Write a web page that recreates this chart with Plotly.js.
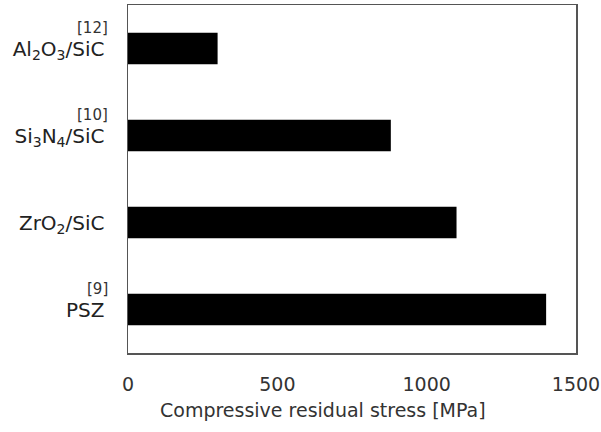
<!DOCTYPE html>
<html><head><meta charset="utf-8">
<script src="https://cdn.plot.ly/plotly-3.0.1.min.js"></script>
<style>html,body{margin:0;padding:0;background:#fff}</style>
</head><body>
<div id="chart" style="width:601px;height:432px"></div>
<script>
const categories = ["Al<sub>2</sub>O<sub>3</sub>/SiC", "Si<sub>3</sub>N<sub>4</sub>/SiC", "ZrO<sub>2</sub>/SiC", "PSZ"];
const catKeys = ["Al2O3/SiC", "Si3N4/SiC", "ZrO2/SiC", "PSZ"];
const values = [300, 880, 1100, 1400];
const refs = ["[12]", "[10]", "", "[9]"];
const xTicks = [0, 500, 1000, 1500];
const xTitle = "Compressive residual stress [MPa]";

const font = "DejaVu Sans, Arial, sans-serif";
const trace = {
  type: "bar", orientation: "h",
  x: values, y: catKeys,
  width: 0.36,
  marker: {color: "#000000", line: {width: 0}},
  hoverinfo: "none"
};
const annotations = refs.map((r, i) => r ? ({
  text: r, xref: "paper", x: -0.04, xanchor: "right",
  yref: "y", y: catKeys[i], yshift: 21, yanchor: "middle",
  showarrow: false, font: {family: font, size: 15, color: "#333"}
}) : null).filter(a => a);
annotations.push({
  text: xTitle, xref: "paper", x: 0.435, xanchor: "center",
  yref: "paper", y: -0.165, yanchor: "middle",
  showarrow: false, font: {family: font, size: 19, color: "#333"}
});

const layout = {
  width: 601, height: 432,
  margin: {l: 128, r: 25, t: 5, b: 79},
  paper_bgcolor: "#fff", plot_bgcolor: "#fff",
  showlegend: false,
  font: {family: font, color: "#222"},
  xaxis: {
    range: [0, 1500], tickvals: xTicks, ticktext: xTicks.map(String),
    showgrid: false, zeroline: false, ticks: "",
    showline: true, mirror: true, linecolor: "#555", linewidth: 1.5,
    tickfont: {size: 19, color: "#333"}, ticklabelstandoff: 14
  },
  yaxis: {
    type: "category", categoryorder: "array", categoryarray: catKeys,
    tickvals: catKeys, ticktext: categories,
    range: [3.5, -0.5],
    showgrid: false, zeroline: false, ticks: "",
    showline: true, mirror: true, linecolor: "#555", linewidth: 1.5,
    tickfont: {size: 20, color: "#222"}, ticklabelstandoff: 18
  },
  annotations: annotations
};
Plotly.newPlot("chart", [trace], layout, {displayModeBar: false, staticPlot: true});
</script>
</body></html>
